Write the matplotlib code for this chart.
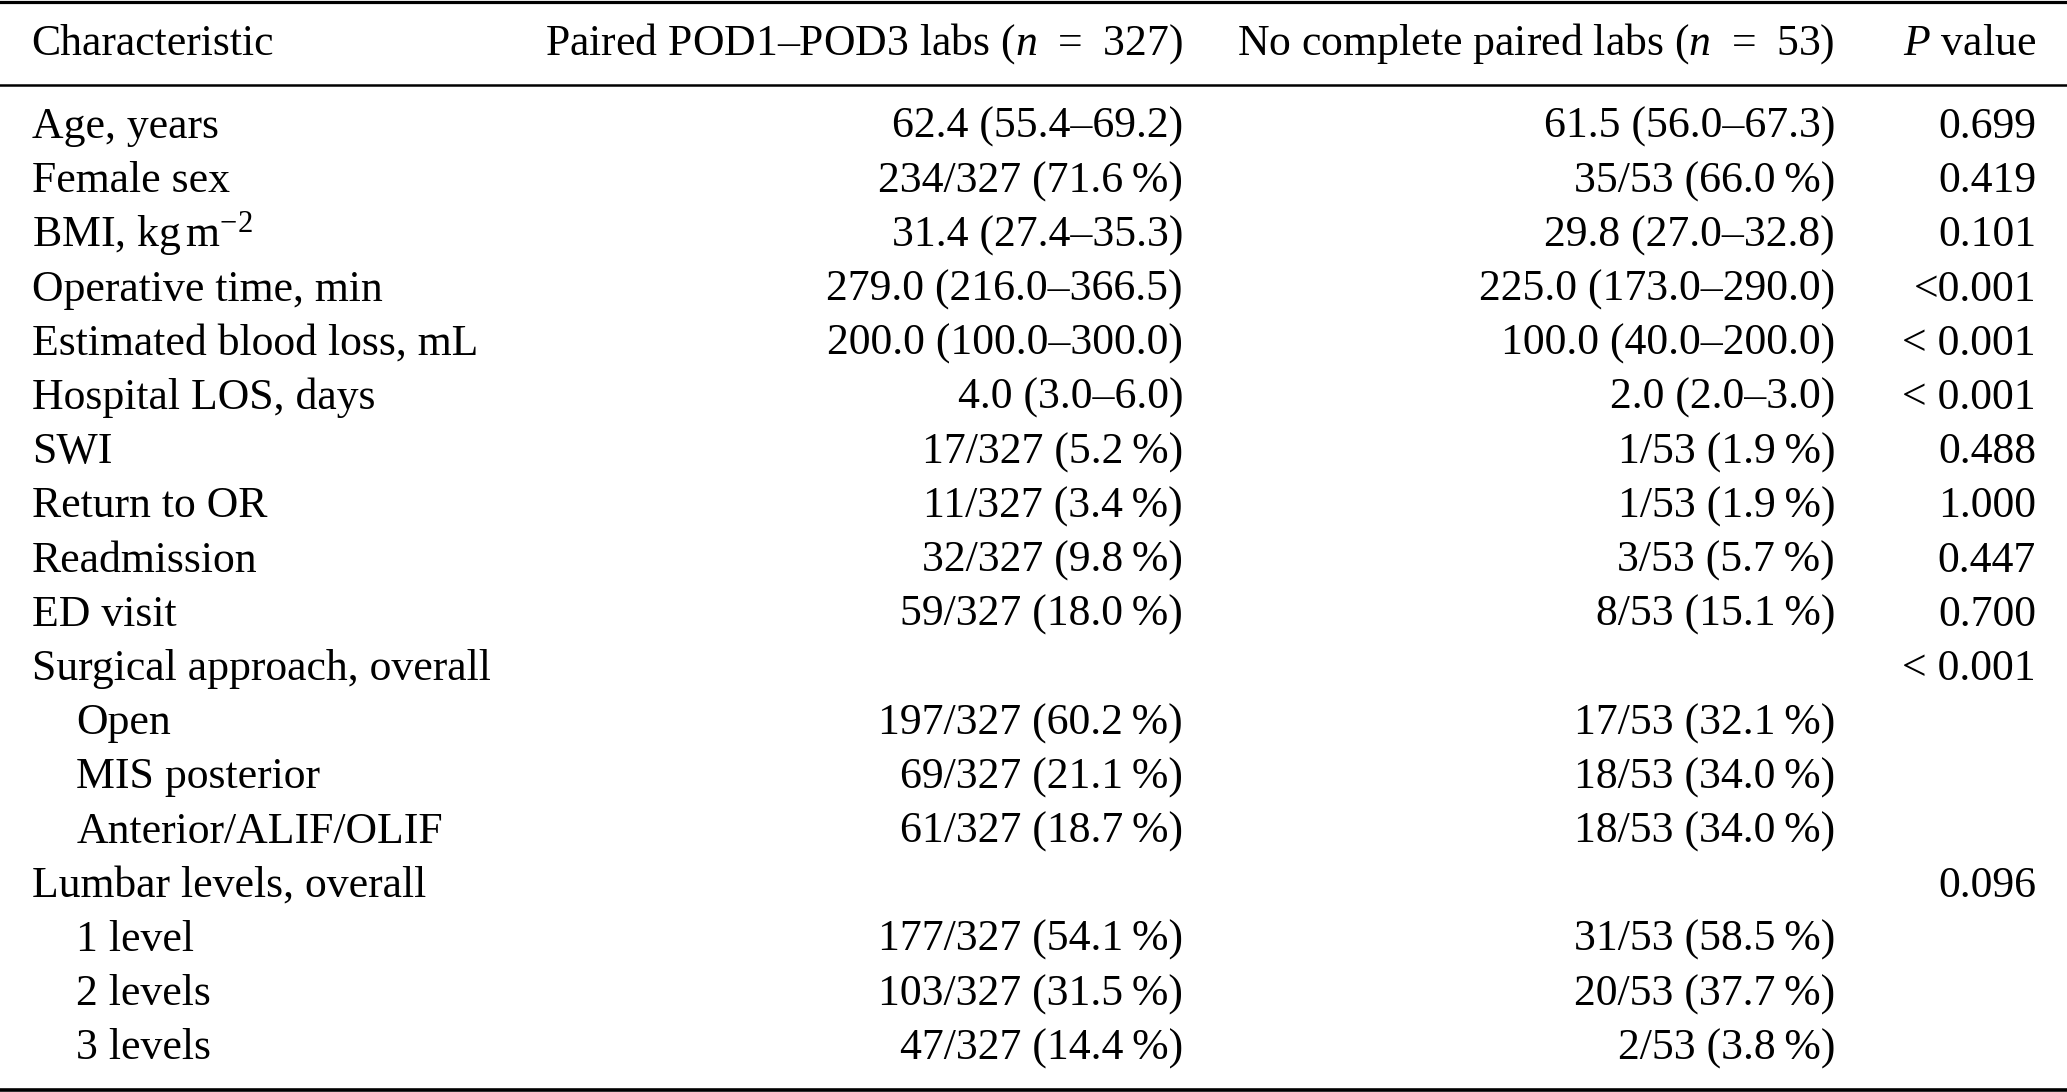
import matplotlib
matplotlib.use("Agg")
import matplotlib.pyplot as plt

plt.rcParams['font.family'] = ['Liberation Serif', 'DejaVu Serif']
plt.rcParams['mathtext.fontset'] = 'custom'
plt.rcParams['mathtext.rm'] = 'Liberation Serif'
plt.rcParams['mathtext.it'] = 'Liberation Serif:italic'
plt.rcParams['mathtext.bf'] = 'Liberation Serif:bold'

TS = "\u2009"

headers = ["Characteristic",
           "Paired POD1\u2013POD3 labs ($n\\;\\,=\\;\\,327$)",
           "No complete paired labs ($n\\;\\,=\\;\\,53$)",
           "$P$ value"]

characteristics = ["Age, years", "Female sex", "BMI, kg$\\,$m$^{-2}$",
                   "Operative time, min", "Estimated blood loss, mL",
                   "Hospital LOS, days", "SWI", "Return to OR", "Readmission",
                   "ED visit", "Surgical approach, overall", "Open",
                   "MIS posterior", "Anterior/ALIF/OLIF",
                   "Lumbar levels, overall", "1 level", "2 levels", "3 levels"]
indented = [False] * 11 + [True, True, True, False, True, True, True]

paired = ["62.4 (55.4\u201369.2)", f"234/327 (71.6{TS}%)", "31.4 (27.4\u201335.3)",
          "279.0 (216.0\u2013366.5)", "200.0 (100.0\u2013300.0)", "4.0 (3.0\u20136.0)",
          f"17/327 (5.2{TS}%)", f"11/327 (3.4{TS}%)", f"32/327 (9.8{TS}%)",
          f"59/327 (18.0{TS}%)", "", f"197/327 (60.2{TS}%)", f"69/327 (21.1{TS}%)",
          f"61/327 (18.7{TS}%)", "", f"177/327 (54.1{TS}%)", f"103/327 (31.5{TS}%)",
          f"47/327 (14.4{TS}%)"]

unpaired = ["61.5 (56.0\u201367.3)", f"35/53 (66.0{TS}%)", "29.8 (27.0\u201332.8)",
            "225.0 (173.0\u2013290.0)", "100.0 (40.0\u2013200.0)", "2.0 (2.0\u20133.0)",
            f"1/53 (1.9{TS}%)", f"1/53 (1.9{TS}%)", f"3/53 (5.7{TS}%)",
            f"8/53 (15.1{TS}%)", "", f"17/53 (32.1{TS}%)", f"18/53 (34.0{TS}%)",
            f"18/53 (34.0{TS}%)", "", f"31/53 (58.5{TS}%)", f"20/53 (37.7{TS}%)",
            f"2/53 (3.8{TS}%)"]

p_values = ["0.699", "0.419", "0.101", "<0.001", "< 0.001", "< 0.001", "0.488",
            "1.000", "0.447", "0.700", "< 0.001", "", "", "", "0.096", "", "", ""]

W, H = 2067, 1092
fig = plt.figure(figsize=(W / 100, H / 100), dpi=100)
ax = fig.add_axes([0, 0, 1, 1])
ax.set_xlim(0, W)
ax.set_ylim(H, 0)
ax.axis('off')

FS = 31.5
x_left, x_indent = 31.7, 76.5
x_c2, x_c3, x_c4 = 1183, 1835, 2036
y_head = 55
y0, dy = 138, 54.2

ax.text(x_left, y_head, headers[0], ha='left', va='baseline', fontsize=FS)
ax.text(x_c2, y_head, headers[1], ha='right', va='baseline', fontsize=FS)
ax.text(x_c3, y_head, headers[2], ha='right', va='baseline', fontsize=FS)
ax.text(x_c4, y_head, headers[3], ha='right', va='baseline', fontsize=FS)

for i, (c, ind, a, b, p) in enumerate(zip(characteristics, indented, paired, unpaired, p_values)):
    y = y0 + i * dy
    ax.text(x_indent if ind else x_left, y, c, ha='left', va='baseline', fontsize=FS)
    if a:
        ax.text(x_c2, y, a, ha='right', va='baseline', fontsize=FS)
    if b:
        ax.text(x_c3, y, b, ha='right', va='baseline', fontsize=FS)
    if p:
        ax.text(x_c4, y, p, ha='right', va='baseline', fontsize=FS)

ax.axhline(1.5, color='black', lw=2.3)
ax.axhline(85, color='black', lw=1.8)
ax.axhline(1089.5, color='black', lw=2.6)

fig.savefig("out.png", dpi=100)
